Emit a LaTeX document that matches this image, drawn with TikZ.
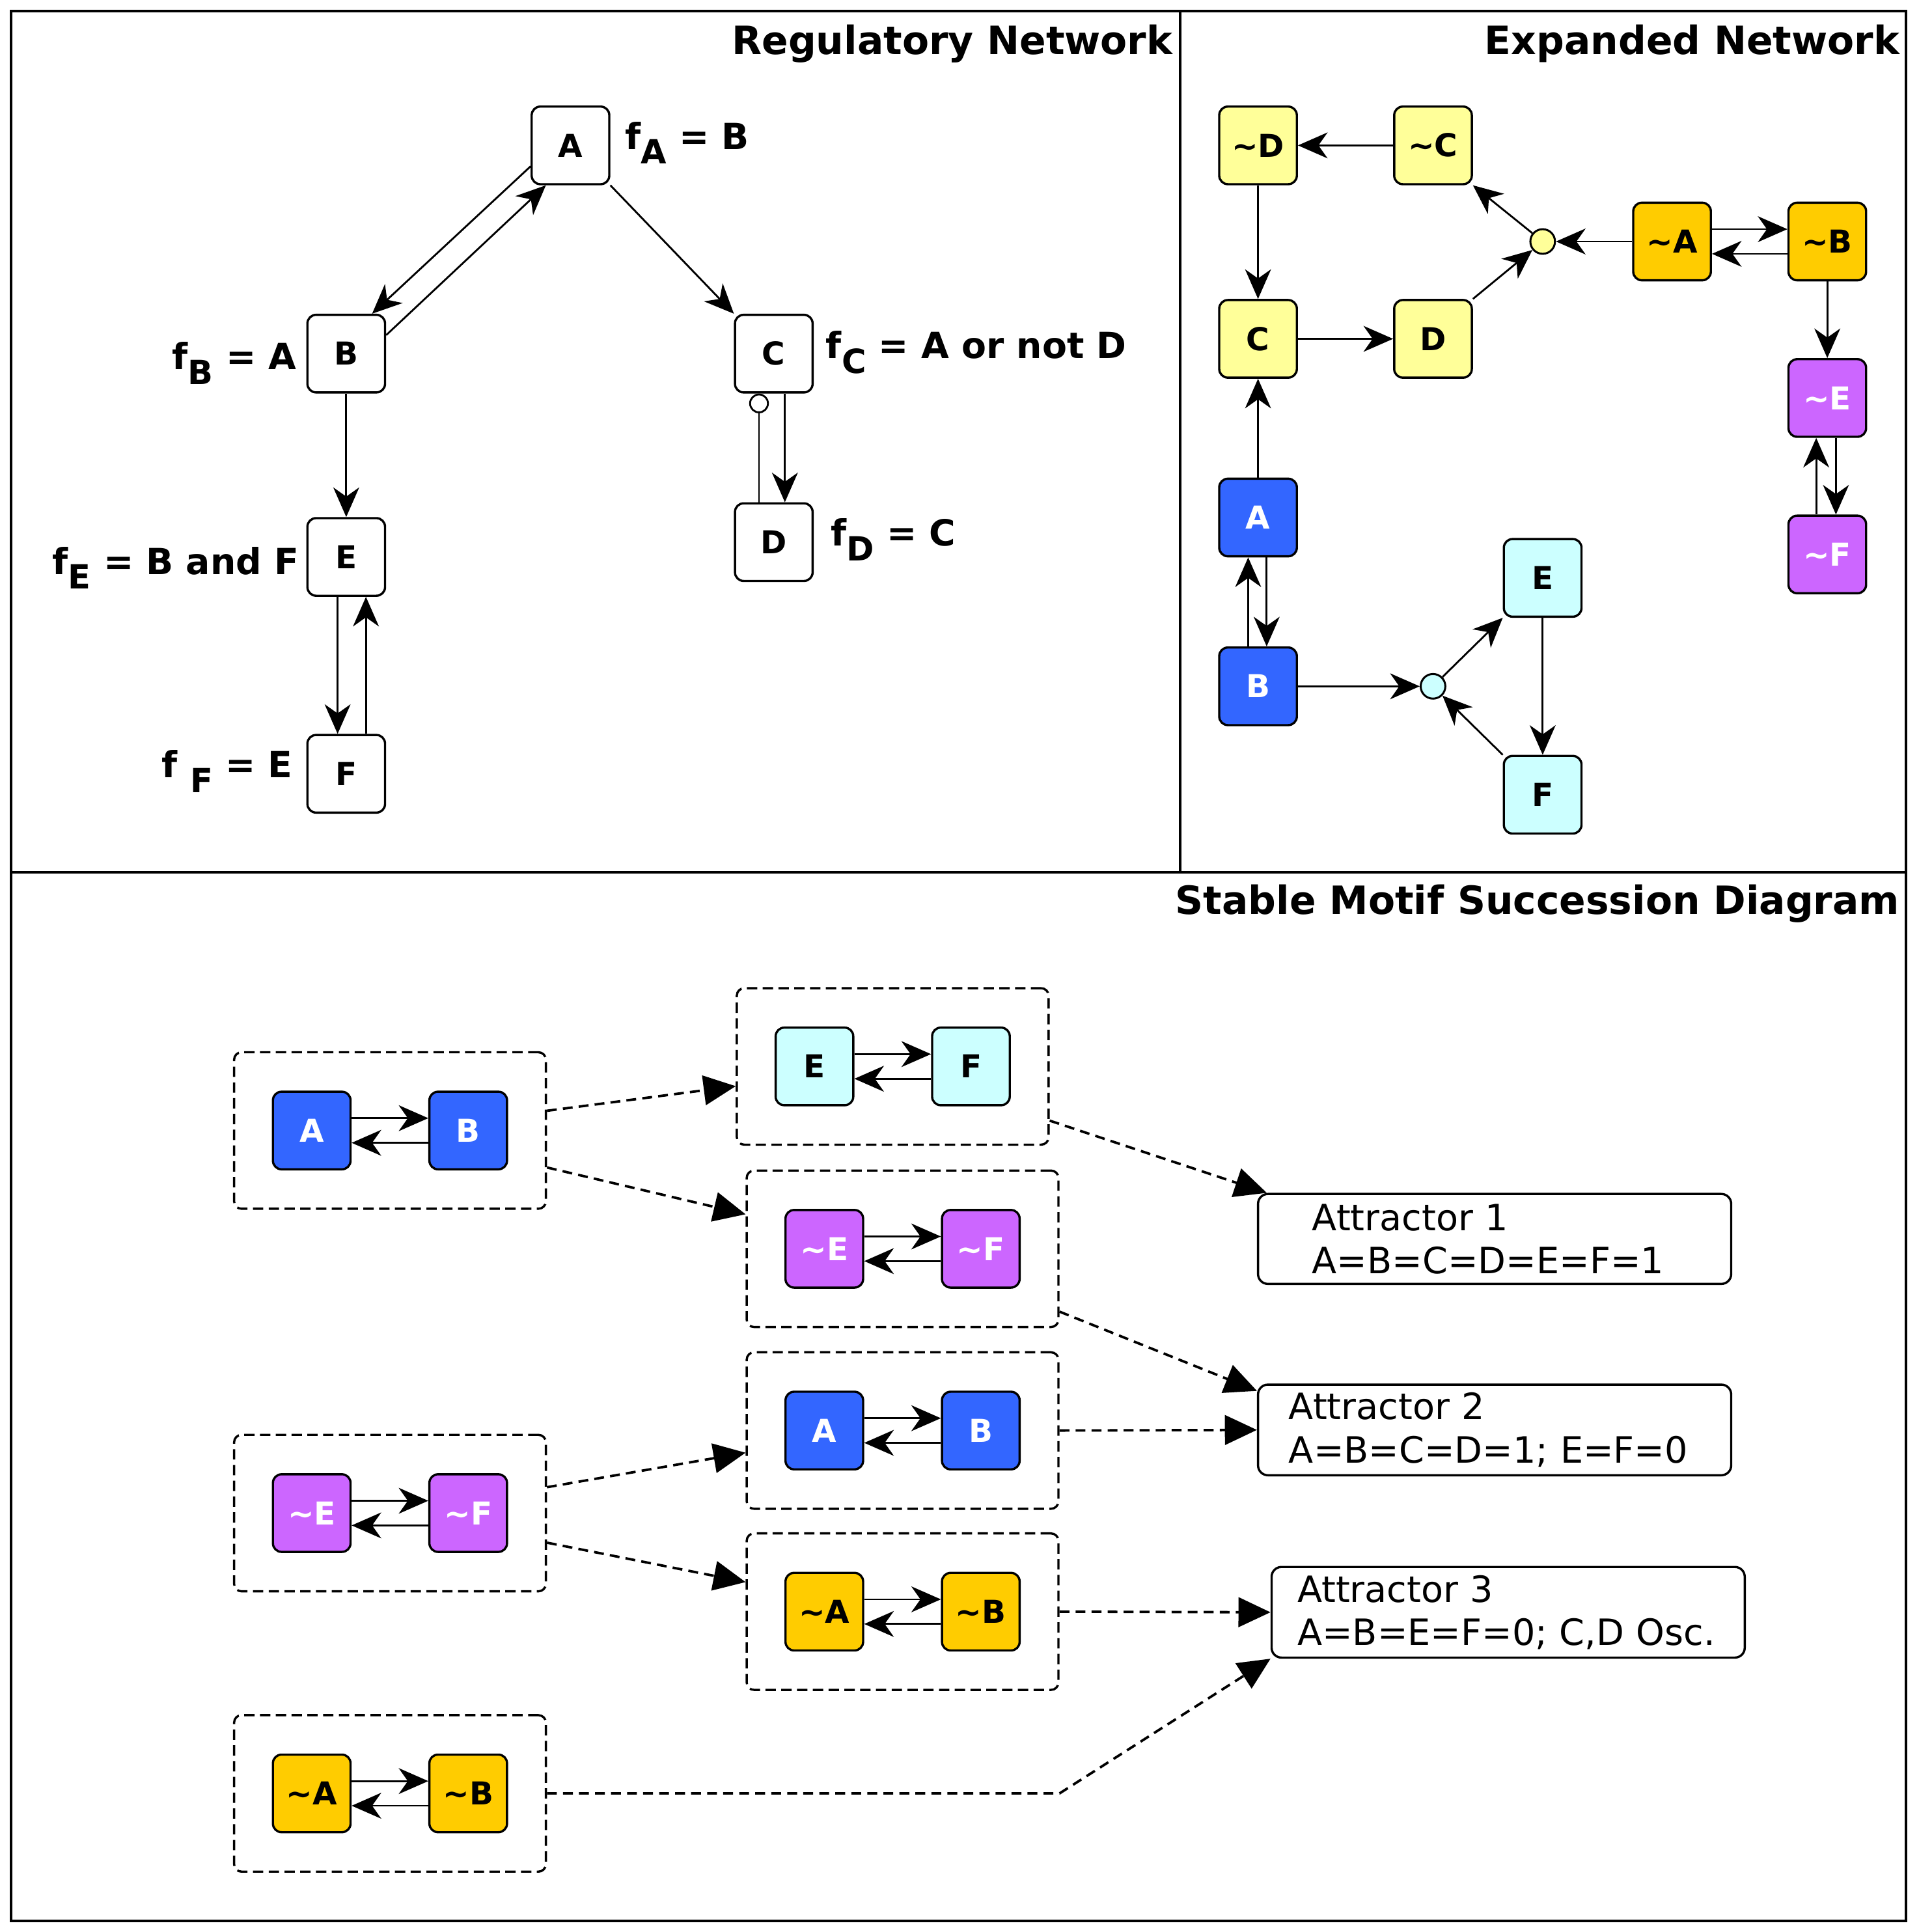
\documentclass[tikz,border=0pt]{standalone}
\usepackage{fontspec}
\setmainfont{DejaVu Sans}
\usetikzlibrary{arrows.meta,positioning}
\definecolor{motifyellow}{HTML}{FFFF99}
\definecolor{motifgold}{HTML}{FFCC00}
\definecolor{motifpurple}{HTML}{CC66FF}
\definecolor{motifblue}{HTML}{3366FF}
\definecolor{motifcyan}{HTML}{CCFFFF}
\newcommand{\fsub}[1]{\raisebox{-6pt}{\fontsize{13.5}{13.5}\selectfont #1}}
\newcommand{\nt}{\textasciitilde}
\begin{document}
\begin{tikzpicture}[x=0.5pt,y=-0.5pt,
    regnode/.style={draw, line width=0.9pt, rounded corners=3.5pt, minimum size=31.5pt,
      inner sep=0pt, fill=white, font=\fontsize{12.8}{12.8}\selectfont\bfseries},
    ynode/.style={regnode, fill=motifyellow},
    gnode/.style={regnode, fill=motifgold},
    pnode/.style={regnode, fill=motifpurple, text=white},
    bnode/.style={regnode, fill=motifblue, text=white},
    cnode/.style={regnode, fill=motifcyan},
    act/.style={-{Stealth[length=12pt,width=10.5pt,inset=3.7pt]}, line width=0.75pt},
    inh/.style={-{Circle[open,length=8pt,width=8pt]}, line width=0.75pt},
    andnode/.style={circle, draw, line width=0.8pt, minimum size=10pt, inner sep=0pt},
    motifbox/.style={draw, dash pattern=on 4.2pt off 2.2pt, line width=0.9pt, rounded corners=3pt,
      minimum width=126.5pt, minimum height=63.5pt},
    succ/.style={-{Triangle[length=13pt,width=12pt]}, dash pattern=on 4pt off 2.5pt, line width=1pt},
    attbox/.style={draw, line width=0.9pt, rounded corners=4pt, minimum height=36.5pt,
      align=left, font=\fontsize{14.7}{17.5}\selectfont},
    paneltitle/.style={font=\fontsize{15.8}{15.8}\selectfont\bfseries, anchor=base east, inner sep=0pt},
    flabel/.style={font=\fontsize{14.6}{14.6}\selectfont\bfseries, inner sep=0pt}]
  \useasboundingbox (0,0) rectangle (1557,1568);
  % panels
  \draw[line width=1pt] (9,9) rectangle (1547,1559);
  \draw[line width=1pt] (958,9) -- (958,708);
  \draw[line width=1pt] (9,708) -- (1547,708);
  \node[paneltitle] (t1) at (952,44) {Regulatory Network};
  \node[paneltitle] (t2) at (1542,44) {Expanded Network};
  \node[paneltitle] (t3) at (1542,742) {Stable Motif Succession Diagram};

  % regulatory network
  \node[regnode] (A) at (463,118) {A};
  \node[regnode] (B) at (281,287) {B};
  \node[regnode] (C) at (628,287) {C};
  \node[regnode] (D) at (628,440) {D};
  \node[regnode] (E) at (281,452) {E};
  \node[regnode] (F) at (281,628) {F};
  \node[flabel, anchor=base west] (fA) at (507,121) {f\fsub{A} = B};
  \node[flabel, anchor=base east] (fB) at (241,300) {f\fsub{B} = A};
  \node[flabel, anchor=base west] (fC) at (670,291) {f\fsub{C} = A or not D};
  \node[flabel, anchor=base west] (fD) at (674,443) {f\fsub{D} = C};
  \node[flabel, anchor=base east] (fE) at (243,466) {f\fsub{E} = B and F};
  \node[flabel, anchor=base east] (fF) at (238,631) {f \fsub{F} = E};
  \draw[act] ([yshift=-8.5pt]A.west) -- ([xshift=10.5pt]B.north);
  \draw[act] ([yshift=7.5pt]B.east) -- ([xshift=-10pt]A.south);
  \draw[act] (A.south east) -- (C.north west);
  \draw[act] (B) -- (E);
  \draw[act] ([xshift=-3.5pt]E.south) -- ([xshift=-3.5pt]F.north);
  \draw[act] ([xshift=8pt]F.north) -- ([xshift=8pt]E.south);
  \draw[act] ([xshift=4.5pt]C.south) -- ([xshift=4.5pt]D.north);
  \draw[inh] ([xshift=-6pt]D.north) -- ([xshift=-6pt]C.south);

  % expanded network
  \node[ynode] (xnD) at (1021,118) {\nt D};
  \node[ynode] (xnC) at (1163,118) {\nt C};
  \node[ynode] (xC) at (1021,275) {C};
  \node[ynode] (xD) at (1163,275) {D};
  \node[andnode, fill=motifyellow] (yand) at (1252,196) {};
  \node[gnode] (xnA) at (1357,196) {\nt A};
  \node[gnode] (xnB) at (1483,196) {\nt B};
  \node[pnode] (xnE) at (1483,323) {\nt E};
  \node[pnode] (xnF) at (1483,450) {\nt F};
  \node[bnode] (xA) at (1021,420) {A};
  \node[bnode] (xB) at (1021,557) {B};
  \node[andnode, fill=motifcyan] (cand) at (1163,557) {};
  \node[cnode] (xE) at (1252,469) {E};
  \node[cnode] (xF) at (1252,645) {F};
  \draw[act] (xnC) -- (xnD);
  \draw[act] (xnD) -- (xC);
  \draw[act] (xC) -- (xD);
  \draw[act] (xD.north east) -- (yand);
  \draw[act] (yand) -- (xnC.south east);
  \draw[act] (xnA) -- (yand);
  \draw[act] ([yshift=5pt]xnA.east) -- ([yshift=5pt]xnB.west);
  \draw[act] ([yshift=-5pt]xnB.west) -- ([yshift=-5pt]xnA.east);
  \draw[act] (xnB) -- (xnE);
  \draw[act] ([xshift=3.5pt]xnE.south) -- ([xshift=3.5pt]xnF.north);
  \draw[act] ([xshift=-4.5pt]xnF.north) -- ([xshift=-4.5pt]xnE.south);
  \draw[act] (xA) -- (xC);
  \draw[act] ([xshift=3.5pt]xA.south) -- ([xshift=3.5pt]xB.north);
  \draw[act] ([xshift=-4pt]xB.north) -- ([xshift=-4pt]xA.south);
  \draw[act] (xB) -- (cand);
  \draw[act] (cand) -- (xE.south west);
  \draw[act] (xF.north west) -- (cand);
  \draw[act] (xE) -- (xF);

  % stable motif succession diagram
  \foreach \m/\x/\y/\s/\l/\r in {m1/316.5/917.5/bnode/A/B, m2/724.5/865.5/cnode/E/F,
      m3/732.5/1013.5/pnode/\nt E/\nt F, m4/732.5/1161/bnode/A/B,
      m5/316.5/1228/pnode/\nt E/\nt F, m6/732.5/1308/gnode/\nt A/\nt B,
      m7/316.5/1455.5/gnode/\nt A/\nt B}{
    \node[motifbox] (\m) at (\x,\y) {};
    \node[\s, xshift=-31.75pt] (\m l) at (\m) {\l};
    \node[\s, xshift=31.75pt] (\m r) at (\m) {\r};
    \draw[act] ([yshift=5pt]\m l.east) -- ([yshift=5pt]\m r.west);
    \draw[act] ([yshift=-5pt]\m r.west) -- ([yshift=-5pt]\m l.east);
  }
  \node[attbox, text width=148pt, inner xsep=22pt] (att1) at (1213,1005.5)
    {Attractor 1\\A=B=C=D=E=F=1};
  \node[attbox, text width=167pt, inner xsep=12.5pt] (att2) at (1213,1160.5)
    {Attractor 2\\A=B=C=D=1; E=F=0};
  \node[attbox, text width=171pt, inner xsep=10.5pt] (att3) at (1224,1308.5)
    {Attractor 3\\A=B=E=F=0; C,D Osc.};
  \draw[succ] ([yshift=8pt]m1.east) -- ([yshift=-8pt]m2.west);
  \draw[succ] ([yshift=-15pt]m1.east) -- ([yshift=14pt]m3.west);
  \draw[succ] ([yshift=-22pt]m2.east) -- ([xshift=4pt]att1.north west);
  \draw[succ] ([yshift=-25.5pt]m3.east) -- ([yshift=-3pt]att2.north west);
  \draw[succ] (m4.east) -- (att2.west);
  \draw[succ] ([yshift=10.5pt]m5.east) -- ([yshift=-9pt]m4.west);
  \draw[succ] ([yshift=-12pt]m5.east) -- ([yshift=12pt]m6.west);
  \draw[succ] (m6.east) -- (att3.west);
  \draw[succ] (m7.east) -- (m7.east -| m6.east) -- (att3.south west);
\end{tikzpicture}
\end{document}
